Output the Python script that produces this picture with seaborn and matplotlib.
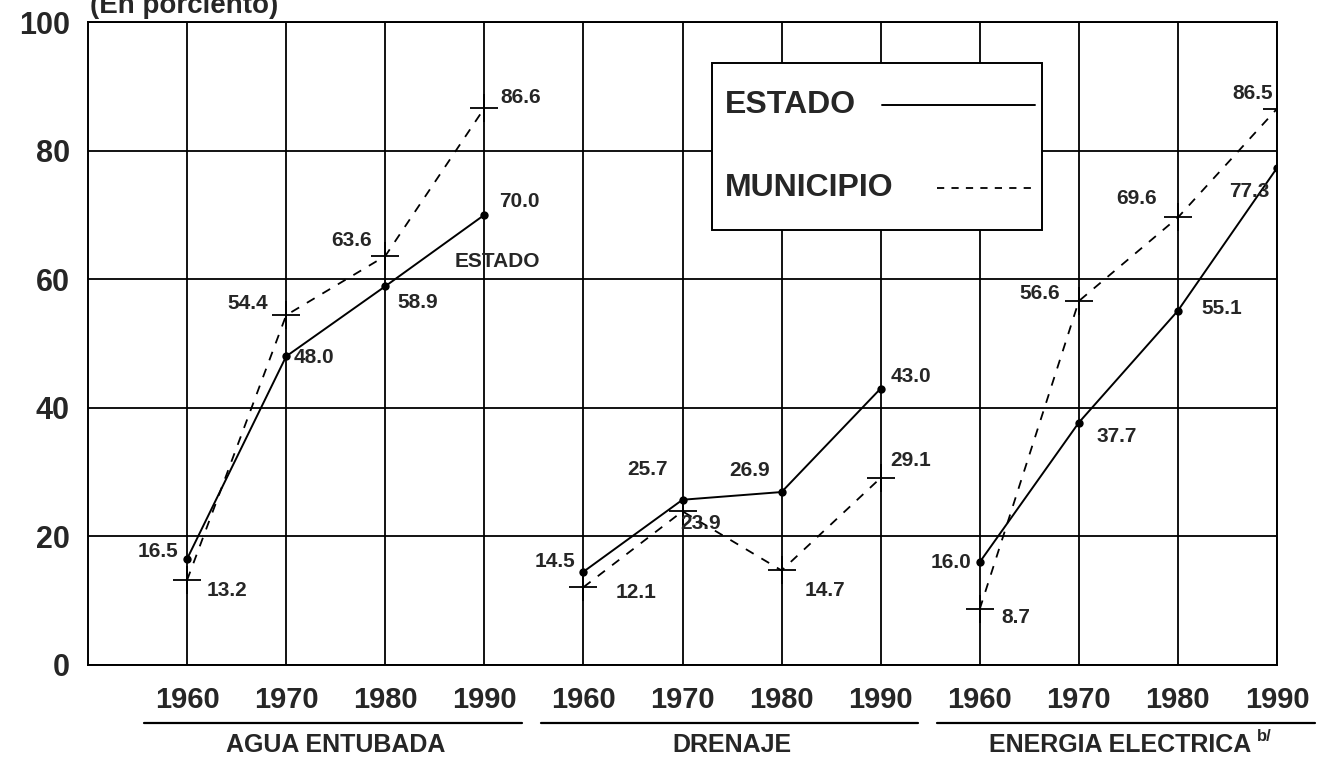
import matplotlib
matplotlib.use("Agg")
import matplotlib.pyplot as plt
import matplotlib.transforms as mtransforms
from matplotlib.patches import Rectangle
import seaborn as sns

# Data (porcentaje de viviendas con servicio)
grupos = ["AGUA ENTUBADA", "DRENAJE", "ENERGIA ELECTRICA"]
anios = ["1960", "1970", "1980", "1990"]
estado = [[16.5, 48.0, 58.9, 70.0],
          [14.5, 25.7, 26.9, 43.0],
          [16.0, 37.7, 55.1, 77.3]]
municipio = [[13.2, 54.4, 63.6, 86.6],
             [12.1, 23.9, 14.7, 29.1],
             [8.7, 56.6, 69.6, 86.5]]
yticks = [0, 20, 40, 60, 80, 100]

# label offsets in pixels (ha, dx, dy) -- placement only
off_estado = [[("right", -9, 7), ("left", 7, -1), ("left", 12, -16), ("left", 15, 13)],
              [("right", -8, 10), ("right", -15, 30), ("right", -12, 22), ("left", 10, 12)],
              [("right", -8, 0), ("left", 18, -14), ("left", 23, 2), ("right", -7, -24)]]
off_muni = [[("left", 20, -10), ("right", -18, 12), ("right", -13, 16), ("left", 16, 11)],
            [("left", 32, -5), ("left", -2, -12), ("left", 23, -20), ("left", 10, 17)],
            [("left", 22, -8), ("right", -19, 8), ("right", -21, 19), ("right", -4, 15)]]

sns.set_style("white")
plt.rcParams["font.family"] = ["Liberation Sans", "DejaVu Sans"]

fig = plt.figure(figsize=(13.24, 7.65), dpi=100)
ax = fig.add_axes([88 / 1324, 100 / 765, 1189 / 1324, 643 / 765])

lblkw = dict(fontsize=15, fontweight="bold", va="center", textcoords="offset pixels", zorder=6)

for g in range(3):
    pos = [g * 4 + i + 1 for i in range(4)]
    sns.lineplot(x=pos, y=estado[g], ax=ax, color="black", lw=1.4,
                 marker="o", markersize=6, markeredgewidth=0, zorder=4)
    sns.lineplot(x=pos, y=municipio[g], ax=ax, color="black", lw=1.3,
                 linestyle=(0, (5, 5)), marker="+", markersize=20,
                 markeredgecolor="black", markeredgewidth=1.3, zorder=4)
    for i in range(4):
        ha, dx, dy = off_estado[g][i]
        ax.annotate(f"{estado[g][i]:.1f}", (pos[i], estado[g][i]),
                    xytext=(dx, dy), ha=ha, **lblkw)
        ha, dx, dy = off_muni[g][i]
        ax.annotate(f"{municipio[g][i]:.1f}", (pos[i], municipio[g][i]),
                    xytext=(dx, dy), ha=ha, **lblkw)

ax.text(4.13, 62.7, "ESTADO", fontsize=15, fontweight="bold", ha="center", va="center")

ax.set_xlim(0, 12)
ax.set_ylim(0, 100)
ax.set_xticks(range(1, 13))
ax.set_xticklabels(anios * 3, fontsize=21, fontweight="bold")
ax.set_yticks(yticks)
ax.set_yticklabels([str(v) for v in yticks], fontsize=22, fontweight="bold")
ax.tick_params(axis="x", length=0, pad=15)
ax.tick_params(axis="y", length=0, pad=13)
ax.grid(True, color="black", lw=1.3)
ax.set_axisbelow(True)
for s in ax.spines.values():
    s.set_color("black")
    s.set_linewidth(1.4)

# group underlines and names
trans = mtransforms.blended_transform_factory(ax.transData, ax.transAxes)
for g in range(3):
    x0 = g * 4 + 1
    ax.plot([x0 - 0.43, x0 + 3.38], [-0.090, -0.090], color="black", lw=1.6,
            transform=trans, clip_on=False)
    txt = ax.text(x0 + 1.5 - (0.08 if g == 2 else 0), -0.124, grupos[g], transform=trans,
                  fontsize=18, fontweight="bold", ha="center", va="center")
    if g == 2:
        ax.annotate("b/", xy=(1, 0.55), xycoords=txt, xytext=(4, 0),
                    textcoords="offset points", fontsize=12, fontweight="bold",
                    va="bottom", ha="left")

# legend box
ax.add_patch(Rectangle((0.525, 0.6765), 0.2775, 0.26, transform=ax.transAxes,
                       facecolor="white", edgecolor="black", lw=1.4, zorder=5))
ax.text(0.536, 0.871, "ESTADO", transform=ax.transAxes, fontsize=23,
        fontweight="bold", va="center", ha="left", zorder=6)
ax.plot([0.668, 0.7965], [0.871, 0.871], transform=ax.transAxes, color="black",
        lw=1.4, zorder=6)
ax.text(0.536, 0.742, "MUNICIPIO", transform=ax.transAxes, fontsize=23,
        fontweight="bold", va="center", ha="left", zorder=6)
ax.plot([0.714, 0.7965], [0.742, 0.742], transform=ax.transAxes, color="black",
        lw=1.3, linestyle=(0, (4, 4)), zorder=6)

fig.text(90 / 1324, 1 - 13 / 765, "(En porciento)", fontsize=20, fontweight="bold",
         ha="left", va="baseline")

fig.savefig("out.png", dpi=100)
